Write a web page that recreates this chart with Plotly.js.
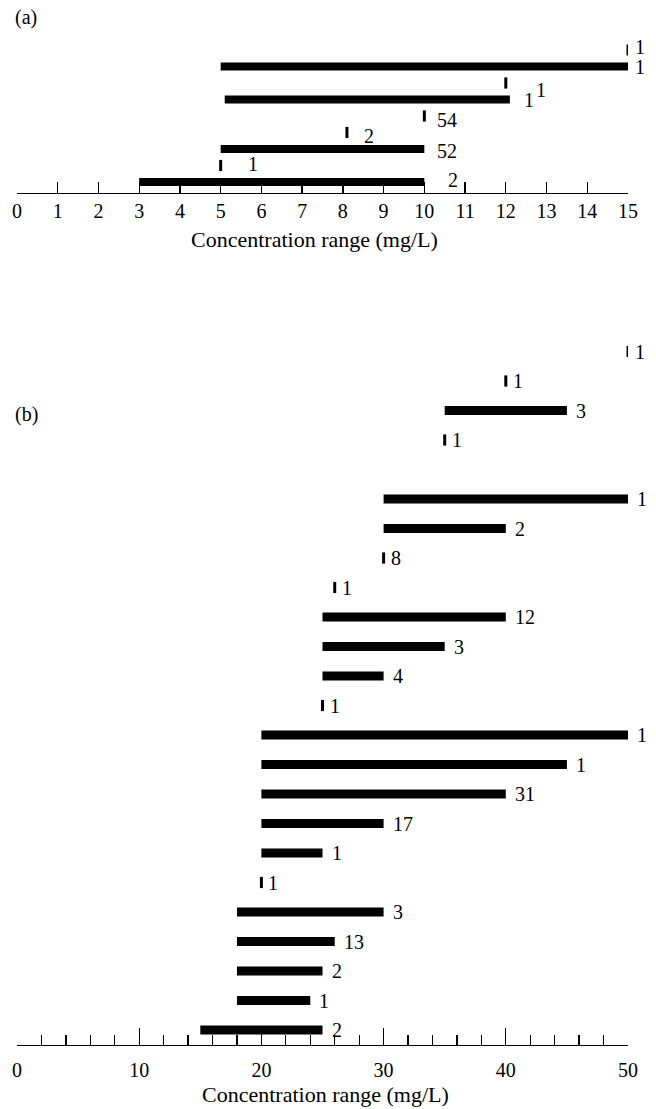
<!DOCTYPE html>
<html><head><meta charset="utf-8">
<script src="https://cdn.plot.ly/plotly-3.0.1.min.js"></script>
<style>html,body{margin:0;padding:0;background:#fff}</style>
</head><body><div id="chart" style="width:656px;height:1109px"></div>
<script>
// ---------- Panel (a): concentration ranges (mg/L), row 0 = bottom ----------
const aRows   = [0, 1, 2, 3, 4, 5, 6, 7, 8];
const aStart  = [3, 5, 5, 8.1, 10, 5.1, 12, 5, 15];
const aEnd    = [10, 5, 10, 8.1, 10, 12.1, 12, 15, 15];
const aCounts = ['2', '1', '52', '2', '54', '1', '1', '1', '1'];
const aTicks  = [0,1,2,3,4,5,6,7,8,9,10,11,12,13,14,15];

// ---------- Panel (b) ----------
const bRows   = [0,1,2,3,4,5,6,7,8,9,10,11,12,13,14,15,16,17,18,20,21,22,23];
const bStart  = [15,18,18,18,18,20,20,20,20,20,20,25,25,25,25,26,30,30,30,35,35,40,50];
const bEnd    = [25,24,25,26,30,20,25,30,40,45,50,25,30,35,40,26,30,40,50,35,45,40,50];
const bCounts = ['2','1','2','13','3','1','1','17','31','1','1','1','4','3','12','1','8','2','1','1','3','1','1'];
const bTicks  = [0,10,20,30,40,50];

// label placement (pixels) for panel (a): [xshift, yshift]
const aLabelShift = [[22,2],[25,1],[11,-2],[15,-3.5],[11,-4],[12,-1],[28,-7],[5,-1],[5,3]];

const FONT = "'Liberation Serif', serif";
const H = 1109, W = 656, L = 17, R = 28;

function split(rows, s, e) {
  const bars = {y:[], base:[], x:[]}, pts = {y:[], x:[]};
  rows.forEach((r,i) => {
    if (e[i] > s[i]) { bars.y.push(r); bars.base.push(s[i]); bars.x.push(e[i]-s[i]); }
    else { pts.y.push(r); pts.x.push(s[i]); }
  });
  return {bars, pts};
}
const A = split(aRows, aStart, aEnd), B = split(bRows, bStart, bEnd);

const traces = [
  {type:'bar', orientation:'h', y:A.bars.y, x:A.bars.x, base:A.bars.base, width:0.47,
   marker:{color:'#000', line:{width:0}}, xaxis:'x', yaxis:'y', hoverinfo:'skip'},
  {type:'scatter', mode:'markers', x:A.pts.x, y:A.pts.y, xaxis:'x', yaxis:'y',
   marker:{symbol:'line-ns', size:8, color:'#000', line:{color:'#000', width:3}}, hoverinfo:'skip'},
  {type:'bar', orientation:'h', y:B.bars.y, x:B.bars.x, base:B.bars.base, width:0.3,
   marker:{color:'#000', line:{width:0}}, xaxis:'x2', yaxis:'y2', hoverinfo:'skip'},
  {type:'scatter', mode:'markers', x:B.pts.x, y:B.pts.y, xaxis:'x2', yaxis:'y2',
   marker:{symbol:'line-ns', size:8, color:'#000', line:{color:'#000', width:3}}, hoverinfo:'skip'}
];

const ann = [];
aRows.forEach((r,i) => ann.push({x:aEnd[i], y:r, xref:'x', yref:'y', text:aCounts[i], showarrow:false,
  xanchor:'left', yanchor:'middle', xshift:aLabelShift[i][0], yshift:aLabelShift[i][1],
  font:{family:FONT, size:20, color:'#000'}}));
bRows.forEach((r,i) => ann.push({x:bEnd[i], y:r, xref:'x2', yref:'y2', text:bCounts[i], showarrow:false,
  xanchor:'left', yanchor:'middle', xshift:(bEnd[i]>bStart[i]?7:5), yshift:0,
  font:{family:FONT, size:20, color:'#000'}}));
const pw = W - L - R;
function px(p){ return (p - L) / pw; }
function py(p){ return 1 - p / H; }
ann.push({x:px(13), y:py(18), xref:'paper', yref:'paper', text:'(a)', showarrow:false, xanchor:'left', yanchor:'middle', font:{family:FONT, size:20, color:'#000'}});
ann.push({x:px(13), y:py(415), xref:'paper', yref:'paper', text:'(b)', showarrow:false, xanchor:'left', yanchor:'middle', font:{family:FONT, size:20, color:'#000'}});
ann.push({x:px(314), y:py(239), xref:'paper', yref:'paper', text:'Concentration range (mg/L)', showarrow:false, xanchor:'center', yanchor:'middle', font:{family:FONT, size:22, color:'#000'}});
ann.push({x:px(325), y:py(1094), xref:'paper', yref:'paper', text:'Concentration range (mg/L)', showarrow:false, xanchor:'center', yanchor:'middle', font:{family:FONT, size:22, color:'#000'}});

const axBase = {showline:true, linecolor:'#000', linewidth:1.3, ticks:'inside', tickcolor:'#000',
  tickwidth:1.3, showgrid:false, zeroline:false, tickfont:{family:FONT, size:20, color:'#000'}, fixedrange:true};

const layout = {
  width:W, height:H, margin:{l:L, r:R, t:0, b:0}, paper_bgcolor:'#fff', plot_bgcolor:'rgba(0,0,0,0)',
  showlegend:false, barmode:'overlay', font:{family:FONT, color:'#000'},
  xaxis: Object.assign({}, axBase, {range:[0,15], tickmode:'array', tickvals:aTicks, ticklen:11, anchor:'y', ticklabelstandoff:0}),
  yaxis: {domain:[py(193), py(35)], range:[(182-193)/16.5, (182-35)/16.5], visible:false, fixedrange:true},
  xaxis2: Object.assign({}, axBase, {range:[0,50], tickmode:'array', tickvals:bTicks, ticklen:17, anchor:'y2', ticklabelstandoff:7,
    minor:{tickmode:'linear', tick0:0, dtick:2, ticks:'inside', ticklen:10, tickwidth:1.3, tickcolor:'#000', showgrid:false}}),
  yaxis2: {domain:[py(1045), py(335)], range:[(1030-1045)/29.5, (1030-335)/29.5], visible:false, fixedrange:true},
  annotations: ann
};
Plotly.newPlot('chart', traces, layout, {displayModeBar:false, staticPlot:true});
</script></body></html>
